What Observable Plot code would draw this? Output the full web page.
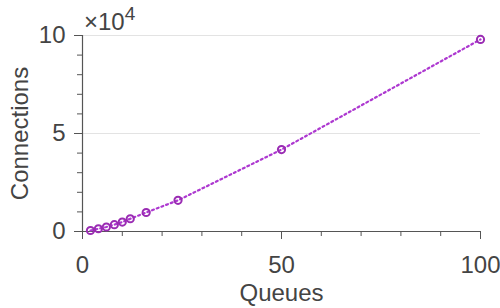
<!DOCTYPE html>
<html>
<head>
<meta charset="utf-8">
<script src="https://cdn.jsdelivr.net/npm/d3@7"></script>
<script src="https://cdn.jsdelivr.net/npm/@observablehq/plot@0.6"></script>
<style>
  html, body { margin: 0; padding: 0; background: #fff; }
  #chart { width: 500px; height: 308px; }
</style>
</head>
<body>
<div id="chart"></div>
<script>
const queues = [2, 4, 6, 8, 10, 12, 16, 24, 50, 100];
const connections = [500, 1400, 2300, 3500, 4800, 6500, 9700, 15900, 41800, 98000];
const xMajorTicks = [0, 50, 100];
const xMinorTicks = [0, 10, 20, 30, 40, 50, 60, 70, 80, 90, 100];
const yMajorTicks = [0, 5, 10];
const yMinorTicks = [0, 1, 2, 3, 4, 5, 6, 7, 8, 9, 10];
const yGrid = [5, 10];
const xLabel = "Queues";
const yLabel = "Connections";
const yScaleExp = 4;

const data = queues.map((q, i) => ({q, c: connections[i] / Math.pow(10, yScaleExp)}));

const axisColor = "#555555";
const textColor = "#444444";
const lineColor = "#ad38d0";
const markColor = "#9a2cb3";
const font = "'Liberation Sans', Arial, Helvetica, sans-serif";

const plot = Plot.plot({
  width: 500,
  height: 308,
  marginLeft: 82,
  marginRight: 20,
  marginTop: 35,
  marginBottom: 77,
  style: {fontFamily: font, fontSize: "24px", color: textColor, background: "#fff"},
  x: {domain: [0, 100], label: null},
  y: {domain: [0, 10], label: null},
  marks: [
    Plot.ruleY(yGrid, {stroke: "#e3e3e3", strokeWidth: 1}),
    Plot.axisX(xMinorTicks, {tickSize: 5, tickFormat: () => "", stroke: axisColor, strokeOpacity: 1, label: null}),
    Plot.axisX(xMajorTicks, {tickSize: 8, tickPadding: 16, tickFormat: d => String(d), stroke: axisColor, strokeOpacity: 1, fill: textColor, fontSize: 24, label: null}),
    Plot.axisY(yMinorTicks, {tickSize: 5, tickFormat: () => "", stroke: axisColor, strokeOpacity: 1, label: null}),
    Plot.axisY(yMajorTicks, {tickSize: 8, tickPadding: 9, tickFormat: d => String(d), stroke: axisColor, strokeOpacity: 1, fill: textColor, fontSize: 24, label: null}),
    Plot.ruleY([0], {stroke: axisColor, strokeWidth: 1.2}),
    Plot.ruleX([0], {stroke: axisColor, strokeWidth: 1.2}),
    Plot.line(data, {x: "q", y: "c", stroke: lineColor, strokeWidth: 2.2, strokeDasharray: "2 3"}),
    Plot.dot(data, {x: "q", y: "c", r: 3.6, stroke: markColor, strokeWidth: 2, fill: "none"}),
    Plot.text([xLabel], {frameAnchor: "bottom", dy: 69, lineAnchor: "bottom", textAnchor: "middle", fill: textColor, fontSize: 24}),
    Plot.text([yLabel], {frameAnchor: "left", dx: -55, rotate: -90, lineAnchor: "bottom", textAnchor: "middle", fill: textColor, fontSize: 24})
  ]
});

const svg = d3.select(plot);
const t = svg.append("text")
  .attr("x", 84)
  .attr("y", 30)
  .attr("text-anchor", "start")
  .attr("fill", textColor)
  .attr("font-size", 24)
  .attr("font-family", font);
t.append("tspan").text("×10");
t.append("tspan").attr("dy", -10).attr("font-size", 19).text(String(yScaleExp));

document.getElementById("chart").appendChild(plot);
</script>
</body>
</html>
